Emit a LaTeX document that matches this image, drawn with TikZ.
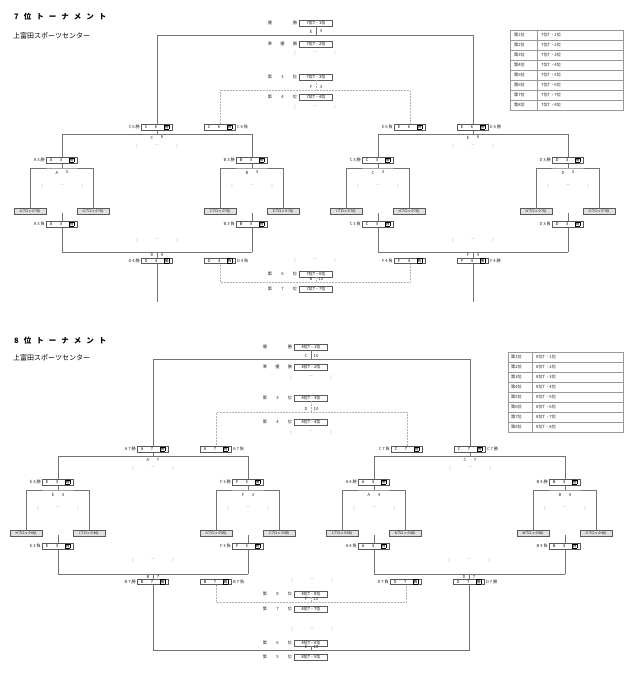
\documentclass[tikz,border=0pt]{standalone}
\usepackage{fontspec}
\newfontfamily\jp{Noto Sans CJK JP}
\usetikzlibrary{positioning}

\tikzset{
  lbl/.style={font=\jp\fontsize{4.2}{5}\selectfont, inner sep=0pt, text=black!85},
  dim/.style={lbl, text=black!40},
  title/.style={font=\jp\bfseries\fontsize{7.5}{8}\selectfont, inner sep=0pt},
  sub/.style={font=\jp\fontsize{7}{8}\selectfont, inner sep=0pt},
  rbox/.style={draw=black!65, fill=white, line width=0.4pt, minimum width=31pt,
    minimum height=5.5pt, inner sep=0pt, font=\jp\fontsize{4}{5}\selectfont},
  rank/.style={rbox, minimum width=33pt},
  blk/.style={rbox, minimum width=32pt, fill=black!12, font=\jp\fontsize{3.3}{4}\selectfont},
  br/.style={draw=black!55, line width=0.6pt},
  thirdbr/.style={draw=black!30, line width=0.5pt, densely dotted},
  tbl/.style={draw=black!40, line width=0.4pt},
}

\newcommand{\gap}{\hspace{5pt}}
% small framed win/lose mark
\newcommand{\wlmark}[1]{{\setlength{\fboxsep}{0.2pt}\setlength{\fboxrule}{0.3pt}\fbox{#1}}}
% ( -- ) for a score
\newcommand{\score}[3]{%
  \node[dim] (#1a) at ({#2-20},#3) {(};
  \node[dim] (#1b) at (#2,#3) {—};
  \node[dim] (#1c) at ({#2+20},#3) {)};
}
% result box, caption beside it
\newcommand{\resbox}[7]{%
  \node[rbox] (#1) at (#2,#3) {#4\hspace{7.5pt}#5\hspace{7pt}\wlmark{#6}};
  \node[lbl, #7=1.2pt of #1] (#1t) {#4 #5 #6};
}
% game name split by the line
\newcommand{\gamelbl}[5]{%
  \node[lbl] (#1a) at ({#2-5},#3) {#4};
  \node[lbl] (#1b) at ({#2+5},#3) {#5};
}
\newcommand{\rankrow}[7]{%
  \node[lbl] (#1a) at (#2,#3) {#4};
  \node[lbl] (#1b) at ({#2+12.5},#3) {#5};
  \node[lbl] (#1c) at ({#2+25},#3) {#6};
  \node[rank] (#1) at ({#2+46},#3) {#7};
}
% first round, two blocks
\newcommand{\blockgame}[7]{%
  \draw[br] (#2,#3) -- (#2,{#3-34});
  \draw[br] (#2,{#3+45}) -- (#2,{#3+84});
  \node[blk] (#1l) at ({#2-32},{#3+43}) {#6};
  \node[blk] (#1r) at ({#2+31},{#3+43}) {#7};
  \draw[br] (#1l.north) |- (#2,#3) -| (#1r.north);
  \gamelbl{#1n}{#2}{#3+4.5}{#4}{#5}
  \score{#1s}{#2}{#3+18}
  \resbox{#1w}{#2}{#3-8}{#4}{#5}{勝}{left}
  \resbox{#1d}{#2}{#3+56}{#4}{#5}{負}{left}
}

\begin{document}
\begin{tikzpicture}[x=1pt,y=-1pt]
\useasboundingbox[fill=white] (0,0) rectangle (632,674);

% ===== 7 place =====
\node[title, anchor=west] (title7) at (14,17) {7\gap 位\gap ト\gap ー\gap ナ\gap メ\gap ン\gap ト};
\node[sub, anchor=west] (hall7) at (13,36) {上富田スポーツセンター};

\draw[tbl] (510,30) rectangle (623,110);
\draw[tbl] (537,30) -- (537,110);
\foreach \i in {1,...,7}
  \draw[tbl] (510,{30+10*\i}) -- (623,{30+10*\i});
\foreach \i in {1,...,8} {
  \node[lbl, anchor=west] (t7p\i) at (514,{25+10*\i}) {第\i 位};
  \node[lbl, anchor=west] (t7q\i) at (541,{25+10*\i}) {7位T・\i 位};
}

\draw[br] (157,134) |- (473,35) -- (473,134);
\draw[thirdbr] (220,127) |- (410,90) -- (410,127);
\draw[br] (62,134) -- (252,134);
\draw[br] (378,134) -- (568,134);

\rankrow{r7a}{270}{23}{優}{}{勝}{7位T・1位}
\rankrow{r7b}{270}{44}{準}{優}{勝}{7位T・2位}
\draw[br] (r7a.south) -- (316,35);
\gamelbl{e3}{316}{31.5}{E}{3}
\score{s7a}{315}{53}
\rankrow{r7c}{270}{77}{第}{3}{位}{7位T・3位}
\rankrow{r7d}{270}{97}{第}{4}{位}{7位T・4位}
\draw[thirdbr] (r7c.south) -- (316,90);
\gamelbl{f3}{316}{87}{F}{3}
\score{s7b}{315}{107}

\blockgame{a3}{62}{168}{A}{3}{Aブロック7位}{Gブロック7位}
\blockgame{b3}{252}{168}{B}{3}{Cブロック7位}{Eブロック7位}
\blockgame{c3}{378}{168}{C}{3}{Iブロック7位}{Hブロック7位}
\blockgame{d3}{568}{168}{D}{3}{Nブロック7位}{Oブロック7位}

\gamelbl{c6}{157}{137.5}{C}{6}
\gamelbl{e6}{473}{137.5}{E}{6}
\resbox{c6w}{157}{127}{C}{6}{勝}{left}
\resbox{c6d}{220}{127}{C}{6}{負}{right}
\resbox{e6d}{410}{127}{E}{6}{負}{left}
\resbox{e6w}{473}{127}{E}{6}{勝}{right}
\score{s7c}{157}{146}
\score{s7d}{473}{146}

\draw[br] (62,252) -- (252,252);
\draw[br] (378,252) -- (568,252);
\draw[br] (157,252) -- (157,302);
\draw[br] (473,252) -- (473,302);
\draw[thirdbr] (220,260) |- (410,282) -- (410,260);
\gamelbl{d4}{157}{255}{D}{4}
\gamelbl{f4}{473}{255}{F}{4}
\resbox{d4w}{157}{260.5}{D}{4}{勝}{left}
\resbox{d4d}{220}{260.5}{D}{4}{負}{right}
\resbox{f4d}{410}{260.5}{F}{4}{負}{left}
\resbox{f4w}{473}{260.5}{F}{4}{勝}{right}
\score{s7e}{157}{240}
\score{s7f}{473}{240}
\score{s7g}{315}{260}
\rankrow{r7f}{270}{274}{第}{6}{位}{7位T・6位}
\rankrow{r7g}{270}{289}{第}{7}{位}{7位T・7位}
\draw[thirdbr] (r7f.south) -- (316,282);
\gamelbl{b10}{316}{279}{B}{10}

% ===== 8 place =====
\node[title, anchor=west] (title8) at (14,341) {8\gap 位\gap ト\gap ー\gap ナ\gap メ\gap ン\gap ト};
\node[sub, anchor=west] (hall8) at (13,358) {上富田スポーツセンター};

\draw[tbl] (508,352) rectangle (623,432);
\draw[tbl] (532,352) -- (532,432);
\foreach \i in {1,...,7}
  \draw[tbl] (508,{352+10*\i}) -- (623,{352+10*\i});
\foreach \i in {1,...,8} {
  \node[lbl, anchor=west] (t8p\i) at (511,{347+10*\i}) {第\i 位};
  \node[lbl, anchor=west] (t8q\i) at (536,{347+10*\i}) {8位T・\i 位};
}

\draw[br] (153,456) |- (470,359) -- (470,456);
\draw[thirdbr] (216,449) |- (407,412) -- (407,449);
\draw[br] (58,456) -- (248,456);
\draw[br] (374,456) -- (565,456);

\rankrow{r8a}{265}{347}{優}{}{勝}{8位T・1位}
\rankrow{r8b}{265}{367}{準}{優}{勝}{8位T・2位}
\draw[br] (r8a.south) -- (311,359);
\gamelbl{c10}{311}{355.5}{C}{10}
\score{s8a}{311}{377}
\rankrow{r8c}{265}{398}{第}{3}{位}{8位T・3位}
\rankrow{r8d}{265}{422}{第}{4}{位}{8位T・4位}
\draw[thirdbr] (r8c.south) -- (311,412);
\gamelbl{d10}{311}{409}{D}{10}
\score{s8b}{311}{432}

\blockgame{e3}{58}{490}{E}{3}{Hブロック8位}{Iブロック8位}
\blockgame{f3}{248}{490}{F}{3}{Gブロック8位}{Cブロック8位}
\blockgame{a4}{374}{490}{A}{4}{Lブロック8位}{Kブロック8位}
\blockgame{b4}{565}{490}{B}{4}{Mブロック8位}{Oブロック8位}

\gamelbl{a7}{153}{459.5}{A}{7}
\gamelbl{c7}{470}{459.5}{C}{7}
\resbox{a7w}{153}{449}{A}{7}{勝}{left}
\resbox{a7d}{216}{449}{A}{7}{負}{right}
\resbox{c7d}{407}{449}{C}{7}{負}{left}
\resbox{c7w}{470}{449}{C}{7}{勝}{right}
\score{s8c}{153}{468}
\score{s8d}{470}{468}

\draw[br] (58,574) -- (248,574);
\draw[br] (374,574) -- (565,574);
\draw[br] (153,574) |- (469,650) -- (469,574);
\draw[thirdbr] (216,580) |- (406,602) -- (406,580);
\gamelbl{b7}{153}{577}{B}{7}
\gamelbl{d7}{469}{577}{D}{7}
\resbox{b7w}{153}{581.5}{B}{7}{勝}{left}
\resbox{b7d}{216}{581.5}{B}{7}{負}{right}
\resbox{d7d}{406}{581.5}{D}{7}{負}{left}
\resbox{d7w}{469}{581.5}{D}{7}{勝}{right}
\score{s8e}{153}{560}
\score{s8f}{469}{560}
\score{s8g}{312}{580}
\rankrow{r8h}{265}{594}{第}{8}{位}{8位T・8位}
\rankrow{r8i}{265}{609}{第}{7}{位}{8位T・7位}
\draw[thirdbr] (r8h.south) -- (311,602);
\gamelbl{f10}{311}{599}{F}{10}
\score{s8h}{312}{629}
\rankrow{r8j}{265}{643}{第}{6}{位}{8位T・6位}
\rankrow{r8k}{265}{657}{第}{5}{位}{8位T・5位}
\draw[br] (r8j.south) -- (311,650);
\gamelbl{e10}{311}{647}{E}{10}
\end{tikzpicture}
\end{document}
